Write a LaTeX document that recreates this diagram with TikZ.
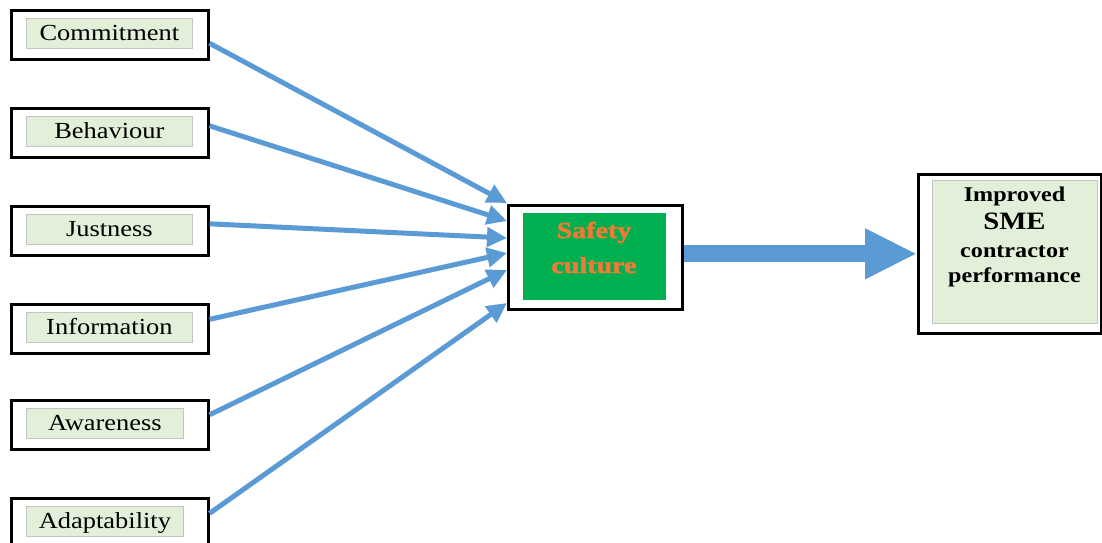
\documentclass[tikz,border=0pt]{standalone}
\usepackage{fontspec}
\setmainfont{Liberation Serif}
\newfontfamily\labfont{Liberation Serif}[FakeStretch=1.15]
\newfontfamily\glowfont{Liberation Serif}[UprightFont=* Bold, FakeStretch=1.22, FakeBold=2]
\usetikzlibrary{arrows.meta}
\definecolor{boxgreen}{HTML}{E2EFD9}
\definecolor{linkblue}{HTML}{5B9BD5}
\definecolor{coregreen}{HTML}{00B050}
\definecolor{gloworange}{HTML}{EE7B36}
\definecolor{edgegray}{HTML}{C4C4C4}
\begin{document}
\begin{tikzpicture}[x=1pt,y=-1pt,
  frame/.style={draw=black, line width=2.6pt, fill=white, inner sep=0pt,
    anchor=north west},
  factorframe/.style={frame, minimum width=197pt, minimum height=49pt},
  tag/.style={draw=edgegray, line width=0.8pt, fill=boxgreen, inner sep=0pt,
    anchor=north west, minimum width=166pt, minimum height=30pt,
    text height=16pt, text depth=1pt,
    font=\labfont\fontsize{23}{27}\selectfont},
  shorttag/.style={tag, minimum width=157pt},
  feed/.style={linkblue, line width=5pt, -{Triangle[length=20pt,width=19pt]}},
  resulttext/.style={anchor=base, inner sep=0pt,
    font=\labfont\bfseries\fontsize{21}{24}\selectfont},
  glowtext/.style={align=center, inner sep=0pt, text=gloworange,
    font=\glowfont\fontsize{23}{35}\selectfont}
]
\useasboundingbox (0,0) rectangle (1102,542);

% factor boxes on the left
\node[factorframe] (o1) at (10,9) {};
\node[factorframe] (o2) at (10,107) {};
\node[factorframe] (o3) at (10,205) {};
\node[factorframe] (o4) at (10,303) {};
\node[factorframe] (o5) at (10,399) {};
\node[factorframe] (o6) at (10,497) {};

\node[tag] (l1) at (26,18) {Commitment};
\node[tag] (l2) at (26,116) {Behaviour};
\node[tag] (l3) at (26,214) {Justness};
\node[tag] (l4) at (26,312) {Information};
\node[shorttag] (l5) at (26,408) {Awareness};
\node[shorttag] (l6) at (26,506) {Adaptability};

% central box
\node[frame, minimum width=174pt, minimum height=104pt] (sc) at (507,204) {};
\node[fill=coregreen, inner sep=0pt, anchor=north west,
  minimum width=143pt, minimum height=87pt] (scin) at (523,213) {};
\node[glowtext, anchor=base] (sclabel) at (594,273) {Safety\\culture};

% outcome box
\node[frame, minimum width=183pt, minimum height=159pt] (imp) at (917,173) {};
\node[draw=edgegray, line width=0.8pt, fill=boxgreen, inner sep=0pt,
  anchor=north west, minimum width=165pt, minimum height=143pt] (impin) at (932,180) {};
\node[resulttext] (r1) at (1014.5,201) {Improved};
\node[resulttext, font=\labfont\bfseries\fontsize{25}{28}\selectfont] (r2) at (1014.5,229) {SME};
\node[resulttext] (r3) at (1014.5,257) {contractor};
\node[resulttext] (r4) at (1014.5,282) {performance};

% arrow heads meet the central box here
\coordinate (in1) at (507,203);
\coordinate (in2) at (507,221);
\coordinate (in3) at (507,238);
\coordinate (in4) at (507,253);
\coordinate (in5) at (507,270);
\coordinate (in6) at (507,303);

\draw[feed] ([yshift=-8.5pt]o1.east) -- (in1);
\draw[feed] ([yshift=7pt]o2.east) -- (in2);
\draw[feed] ([yshift=7pt]o3.east) -- (in3);
\draw[feed] ([yshift=9.5pt]o4.east) -- (in4);
\draw[feed] ([yshift=10pt]o5.east) -- (in5);
\draw[feed] ([yshift=9.5pt]o6.east) -- (in6);

% main arrow to the outcome
\draw[linkblue, line width=17pt, -{Triangle[length=52pt,width=47pt]}]
  (sc.east |- imp.west) -- (imp.west);
\end{tikzpicture}
\end{document}
